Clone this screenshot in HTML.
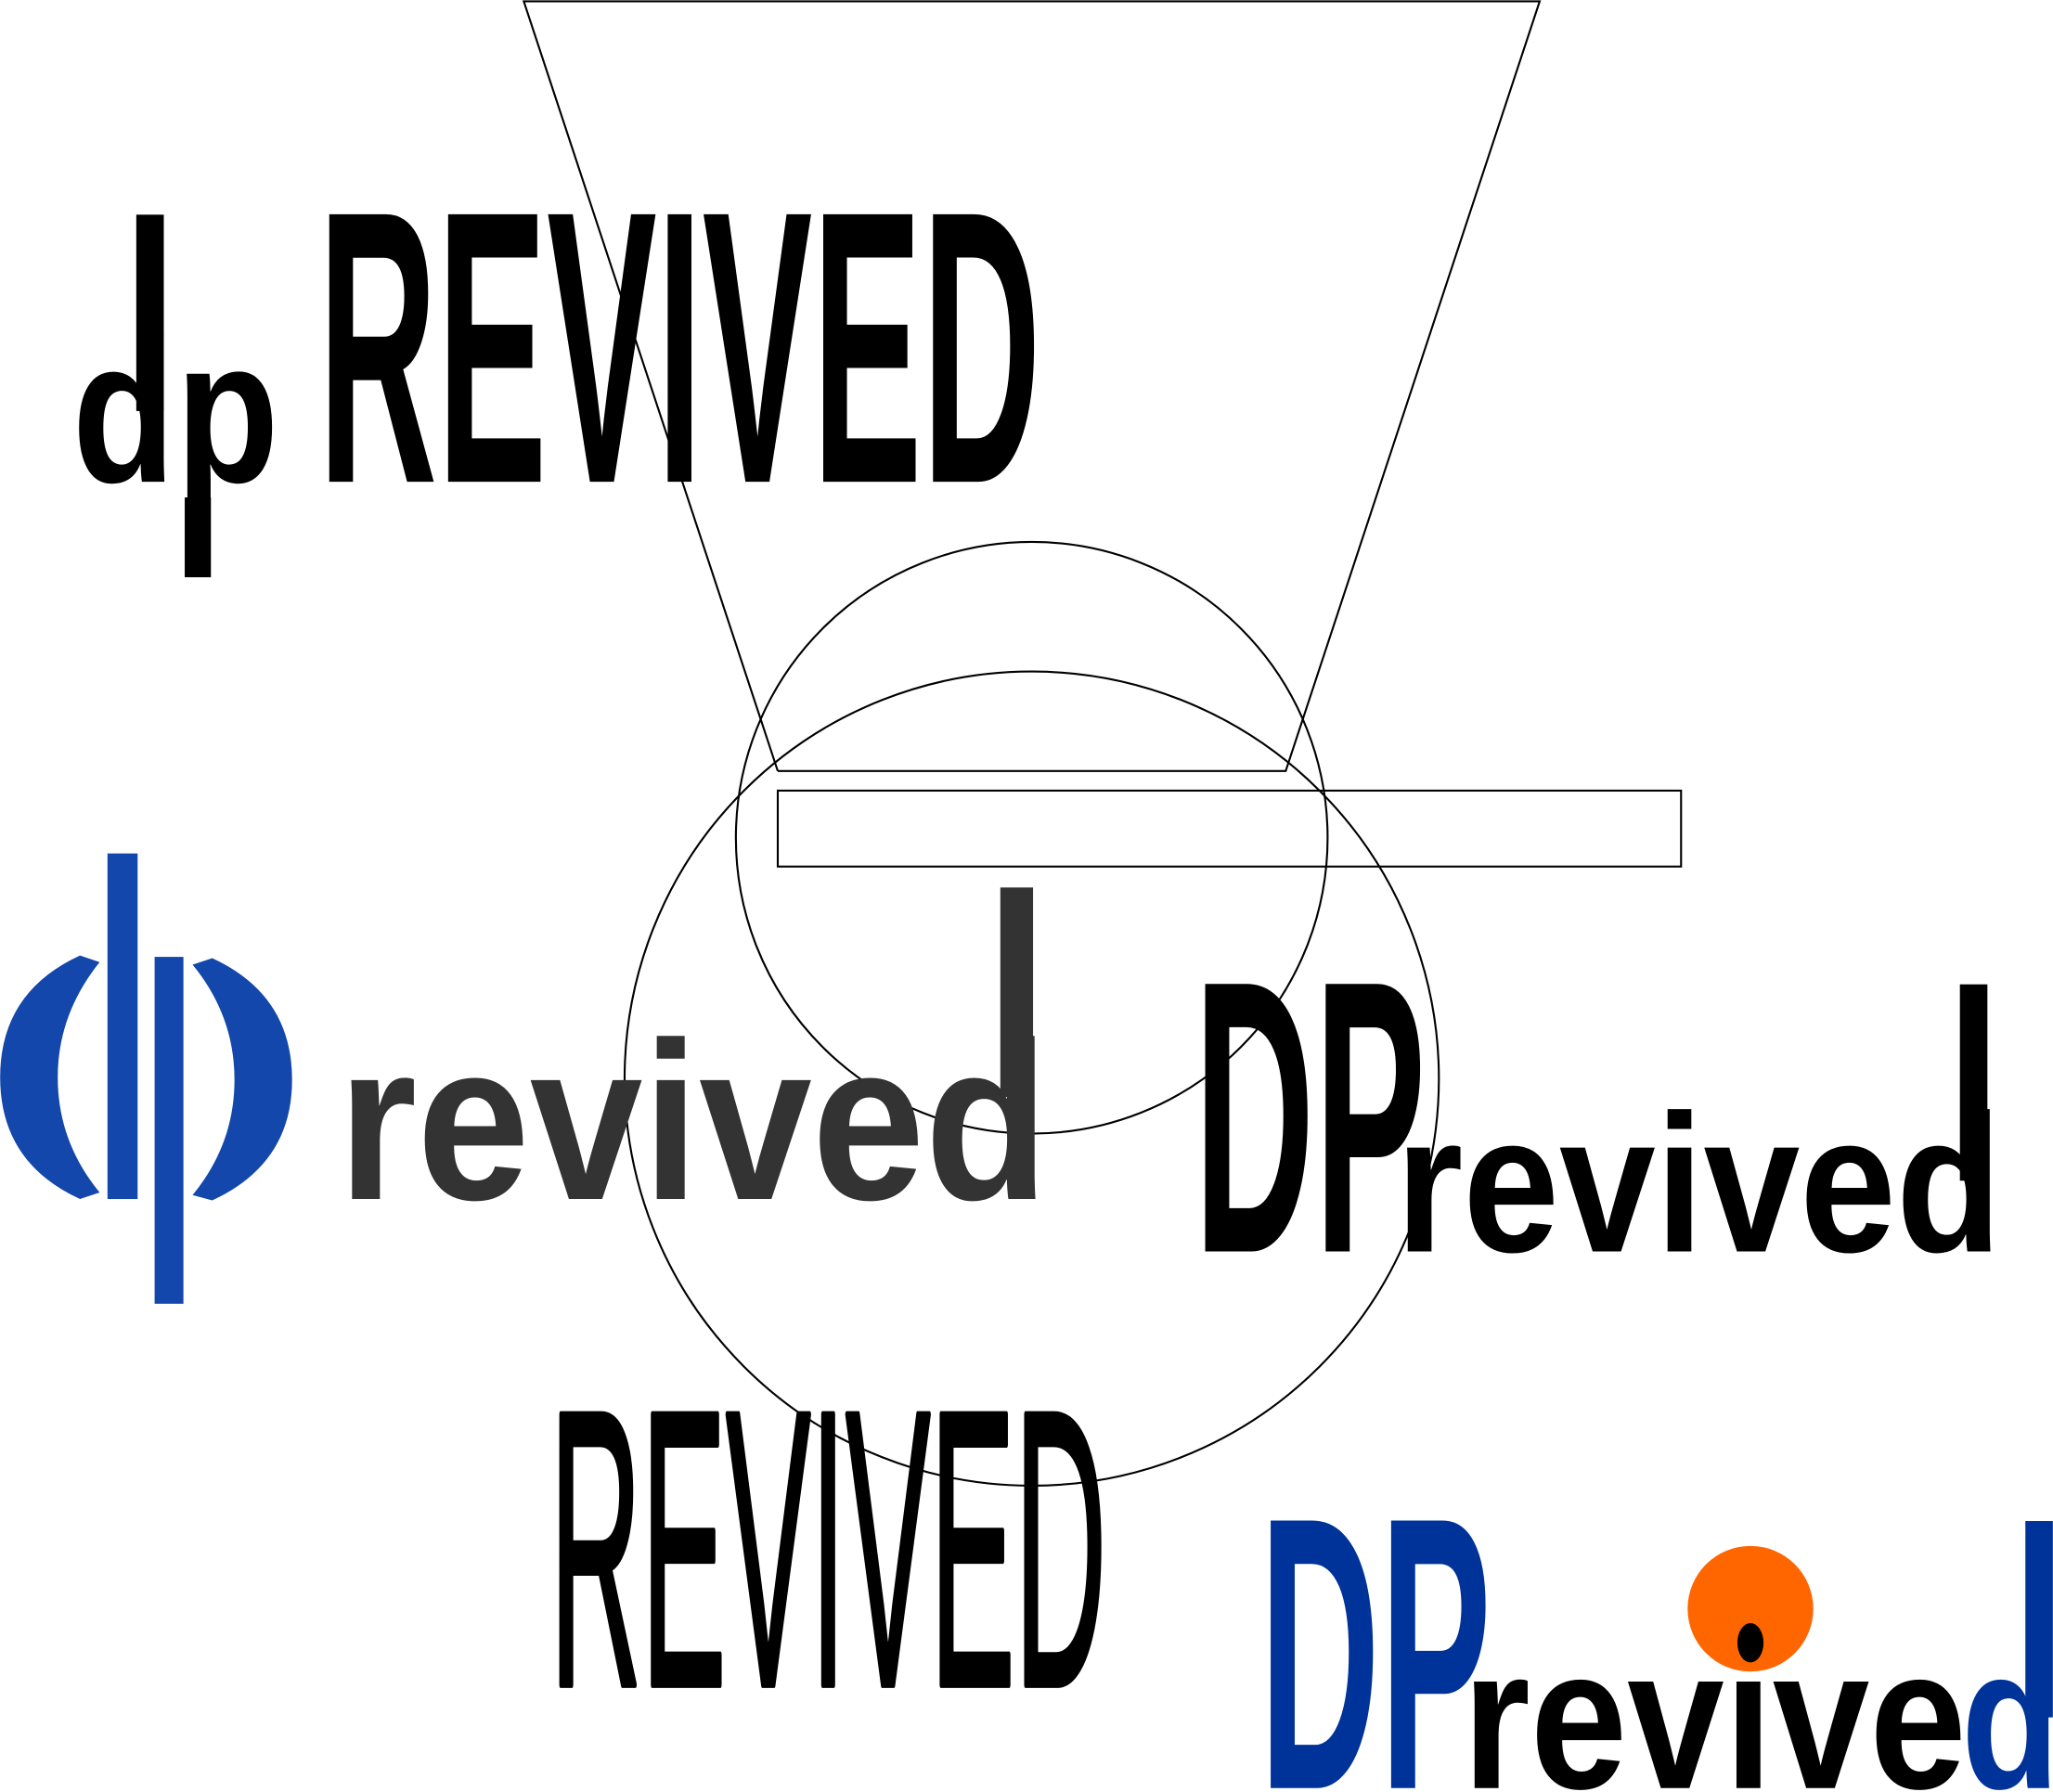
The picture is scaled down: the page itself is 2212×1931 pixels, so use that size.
<!DOCTYPE html>
<html><head><meta charset="utf-8"><style>
html,body{margin:0;padding:0;background:#fff;}
svg{display:block;}
text{font-family:"Liberation Sans",sans-serif;}
</style></head><body>
<svg width="2212" height="1931" viewBox="0 0 1568 1369" xmlns="http://www.w3.org/2000/svg">
<rect width="1568" height="1369" fill="#fff"/>
<g fill="none" stroke="#000" stroke-width="1.5">
<polyline points="594,589 400,1 1176,1 982,589 594,589"/>
<circle cx="788" cy="640" r="226"/>
<circle cx="788" cy="824" r="311"/>
<rect x="594" y="604" width="690" height="58"/>
</g>
<text x="55" y="368" font-size="156" font-weight="bold" textLength="158" lengthAdjust="spacingAndGlyphs">dp</text>
<rect x="104" y="164" width="21" height="150" fill="#000"/>
<rect x="141" y="380" width="20" height="61" fill="#000"/>
<text x="243" y="368" font-size="297" font-weight="bold" textLength="552" lengthAdjust="spacingAndGlyphs">REVIVED</text>
<g fill="#1347ab">
<rect x="82" y="652" width="23" height="264"/>
<rect x="118" y="731" width="22" height="265"/>
<path d="M61,730 L76,735 Q44,775 44,823 Q44,872 76,911 L61,916 Q0,888 0,823 Q0,758 61,730 Z"/>
<path d="M162,732 L147,737 Q179,776 179,825 Q179,874 147,913 L162,917 Q223,889 223,825 Q223,760 162,732 Z"/>
</g>
<text x="258" y="916" font-size="172" font-weight="bold" fill="#333" textLength="543" lengthAdjust="spacingAndGlyphs">revived</text>
<rect x="764" y="678" width="25" height="160" fill="#333"/>
<text x="912" y="956" font-size="297" font-weight="bold" textLength="177" lengthAdjust="spacingAndGlyphs">DP</text>
<text x="1066" y="956" font-size="150" font-weight="bold" textLength="463" lengthAdjust="spacingAndGlyphs">revived</text>
<rect x="1497" y="752" width="21" height="150" fill="#000"/>
<text x="420" y="1287" font-size="300" stroke="#000" stroke-width="5" stroke-linejoin="round" textLength="425" lengthAdjust="spacingAndGlyphs">REVIVED</text>
<text x="962" y="1366" font-size="297" font-weight="bold" fill="#003399" textLength="177" lengthAdjust="spacingAndGlyphs">DP</text>
<circle cx="1337" cy="1229" r="48" fill="#ff6600"/>
<text x="1117" y="1366" font-size="154" font-weight="bold" textLength="385" lengthAdjust="spacingAndGlyphs">revıve</text>
<text transform="translate(1498,1366) scale(0.8,1)" x="0" y="0" font-size="154" font-weight="bold" fill="#003399">d</text>
<rect x="1547" y="1162" width="21" height="150" fill="#003399"/>
<ellipse cx="1337" cy="1255" rx="10" ry="15" fill="#000"/>
</svg>
</body></html>
